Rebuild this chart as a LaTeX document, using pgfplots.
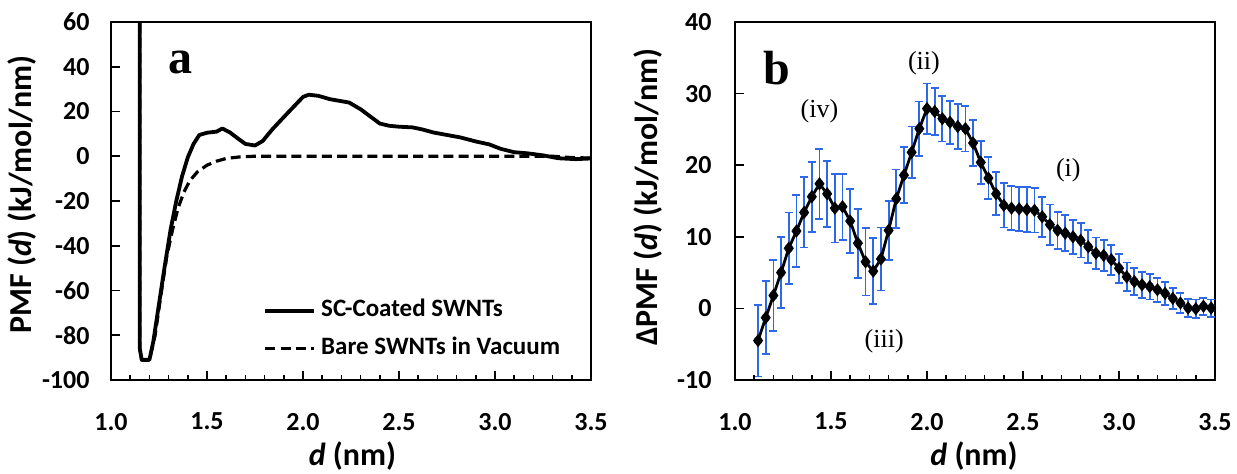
\documentclass[border=0pt]{standalone}
\usepackage{pgfplots}
\usepackage{pgfplotstable}
\pgfplotsset{compat=1.18}
\usepackage{fontspec}
\setmainfont{Carlito}
\newfontfamily\tnr{Liberation Serif}
\definecolor{errblue}{RGB}{45,105,230}
\pgfkeys{/pgf/number format/assume math mode=true}

\pgfplotstableread{
d v
1.150 80
1.150 -86
1.160 -91
1.200 -91
1.220 -83
1.250 -66
1.280 -49
1.310 -33
1.340 -20
1.370 -9
1.400 -0.5
1.430 5.5
1.460 9.5
1.500 10.5
1.550 11
1.580 12.4
1.620 10.6
1.660 8
1.700 5.5
1.750 4.8
1.790 6.8
1.840 12
1.900 17.5
1.950 22
2.000 26.5
2.030 27.5
2.080 27
2.140 25.5
2.200 24.6
2.240 24
2.300 21
2.350 17.8
2.400 14.6
2.450 13.6
2.500 13.2
2.570 12.9
2.620 12
2.680 10.6
2.750 9.5
2.820 8.4
2.900 6.6
2.970 5.3
3.030 3.3
3.100 1.8
3.170 1.3
3.250 0.4
3.330 -0.9
3.420 -1.3
3.500 -1.0
}\solida

\pgfplotstableread{
d v
1.150 80
1.150 -86
1.160 -91
1.200 -91
1.230 -80
1.260 -62
1.290 -45
1.320 -33
1.350 -23
1.380 -16
1.410 -11
1.450 -7
1.500 -4
1.550 -2.2
1.600 -1.0
1.670 -0.3
1.750 0
3.300 0
3.400 -0.6
3.500 -0.8
}\dasheda

\pgfplotstableread{
d v e
1.12 -4.5 5.0
1.16 -1.3 5.1
1.20 1.8 5.0
1.24 5.0 5.0
1.28 8.4 5.0
1.32 10.8 5.0
1.36 13.4 4.9
1.40 15.6 4.9
1.44 17.4 4.9
1.48 16.0 4.6
1.52 14.0 4.8
1.56 14.2 4.6
1.60 12.2 4.5
1.64 9.1 4.8
1.68 6.5 4.7
1.72 5.2 4.6
1.76 6.9 4.4
1.80 10.9 4.1
1.84 15.3 4.1
1.88 18.6 3.9
1.92 21.8 3.6
1.96 25.1 3.8
2.00 27.9 3.5
2.04 27.5 3.3
2.08 26.5 3.2
2.12 26.0 3.0
2.16 25.4 3.1
2.20 25.1 3.2
2.24 23.1 3.2
2.28 20.4 3.0
2.32 18.2 2.9
2.36 16.0 3.0
2.40 14.4 3.1
2.44 14.0 3.1
2.48 13.9 3.1
2.52 13.8 3.1
2.56 13.7 3.1
2.60 12.8 2.8
2.64 11.7 2.8
2.68 10.9 2.6
2.72 10.5 2.5
2.76 10.0 2.4
2.80 9.5 2.4
2.84 8.6 2.3
2.88 7.7 2.2
2.92 7.4 2.2
2.96 6.8 2.1
3.00 5.6 2.0
3.04 4.4 2.0
3.08 3.75 1.9
3.12 3.3 1.8
3.16 3.05 1.8
3.20 2.6 1.7
3.24 2.1 1.6
3.28 1.4 1.5
3.32 0.75 1.4
3.36 0.05 1.3
3.40 -0.05 1.3
3.44 0.3 1.2
3.48 0.05 1.2
}\datab

\pgfplotsset{
  base/.style={scale only axis, width=240pt, height=179pt,
    xmin=1, xmax=3.5, xtick={1,1.5,2,2.5,3,3.5}, minor x tick num=4,
    tick align=inside, tick pos=left,
    major tick length=4.5pt, minor tick length=2.6pt,
    tick style={black, line width=0.8pt}},
  fonts/.style={
    tick label style={font=\fontsize{13}{15}\selectfont\bfseries},
    x tick label style={yshift=-13pt},
    xticklabel={\pgfmathprintnumber[fixed,fixed zerofill,precision=1]{\tick}},
  },
  tkxmajor/.style={forget plot, only marks, mark=|, mark size=2.25pt,
    mark options={solid, black, line width=0.8pt, yshift=2.25pt}},
  tkxminor/.style={forget plot, only marks, mark=|, mark size=1.3pt,
    mark options={solid, black, line width=0.8pt, yshift=1.3pt}},
  tkymajor/.style={forget plot, only marks, mark=-, mark size=2.25pt,
    mark options={solid, black, line width=0.8pt, xshift=2.25pt}},
}

\begin{document}
\begin{tikzpicture}
\useasboundingbox (0pt,0pt) rectangle (618.5pt,237pt);
\begin{axis}[base, fonts, axis line style={line width=0.9pt, black},
  at={(55.5pt,47pt)}, anchor=south west,
  ymin=-100, ymax=60, ytick={-100,-80,-60,-40,-20,0,20,40,60},
  y tick label style={xshift=-7.2pt},
  legend style={draw=none, fill=none, at={(axis description cs:0.3167,0.053)}, anchor=south west,
    row sep=7pt, column sep=2.5pt, inner sep=0pt,
    font=\fontsize{12.5}{14}\selectfont\bfseries,
    nodes={inner sep=0pt, text height=9pt, text depth=3pt}},
  legend cell align=left,
  legend image code/.code={\draw[#1] (0pt,0pt) -- (24.5pt,0pt);},
]
\addplot[tkxmajor] coordinates {(1.5,-100) (2,-100) (2.5,-100) (3,-100)};
\addplot[tkxminor] coordinates {(1.1,-100) (1.2,-100) (1.3,-100) (1.4,-100) (1.6,-100) (1.7,-100) (1.8,-100) (1.9,-100) (2.1,-100) (2.2,-100) (2.3,-100) (2.4,-100) (2.6,-100) (2.7,-100) (2.8,-100) (2.9,-100) (3.1,-100) (3.2,-100) (3.3,-100) (3.4,-100)};
\addplot[tkymajor] coordinates {(1,-80) (1,-60) (1,-40) (1,-20) (1,0) (1,20) (1,40)};
\addplot[black, line width=1.9pt, line join=round] table[x=d,y=v] {\solida};
\addlegendentry{SC-Coated SWNTs}
\addplot[black, line width=1.6pt, dash pattern=on 5pt off 2.6pt] table[x=d,y=v] {\dasheda};
\addlegendentry{Bare SWNTs in Vacuum}
\node[font=\tnr\bfseries\fontsize{24}{26}\selectfont] at (axis cs:1.36,41.7) {a};
\end{axis}

\begin{axis}[base, fonts, axis line style={line width=0.9pt, black},
  at={(367.5pt,47pt)}, anchor=south west,
  ymin=-10, ymax=40, ytick={-10,0,10,20,30,40},
  y tick label style={xshift=-8.2pt},
]
\addplot[tkxmajor] coordinates {(1.5,-10) (2,-10) (2.5,-10) (3,-10)};
\addplot[tkxminor] coordinates {(1.1,-10) (1.2,-10) (1.3,-10) (1.4,-10) (1.6,-10) (1.7,-10) (1.8,-10) (1.9,-10) (2.1,-10) (2.2,-10) (2.3,-10) (2.4,-10) (2.6,-10) (2.7,-10) (2.8,-10) (2.9,-10) (3.1,-10) (3.2,-10) (3.3,-10) (3.4,-10)};
\addplot[tkymajor] coordinates {(1,0) (1,10) (1,20) (1,30)};
\addplot[errblue, only marks, mark=none, forget plot,
  error bars/.cd, y dir=both, y explicit,
  error bar style={errblue, line width=0.9pt},
  error mark options={errblue, rotate=90, mark size=2pt, line width=0.9pt}]
  table[x=d, y=v, y error=e] {\datab};
\addplot[black, line width=1.4pt, mark=diamond*, mark size=2.2pt, mark options={solid, fill=black}] table[x=d,y=v] {\datab};
\node[font=\tnr\bfseries\fontsize{24}{26}\selectfont] at (axis cs:1.218,33.6) {b};
\node[font=\tnr\fontsize{13}{15}\selectfont] at (axis cs:1.44,27.6) {(iv)};
\node[font=\tnr\fontsize{13}{15}\selectfont] at (axis cs:1.984,34.3) {(ii)};
\node[font=\tnr\fontsize{13}{15}\selectfont] at (axis cs:1.777,-4.6) {(iii)};
\node[font=\tnr\fontsize{13}{15}\selectfont] at (axis cs:2.736,19.3) {(i)};
\end{axis}

\node[rotate=90, anchor=base, font=\fontsize{16}{18}\selectfont\bfseries] at (15.85pt,139.75pt) {PMF (\textit{d}) (kJ/mol/nm)};
\node[rotate=90, anchor=base, font=\fontsize{16}{18}\selectfont\bfseries] at (328.5pt,138.5pt) {ΔPMF (\textit{d}) (kJ/mol/nm)};
\node[anchor=base, font=\fontsize{16}{18}\selectfont\bfseries] at (176.25pt,4pt) {\textit{d} (nm)};
\node[anchor=base, font=\fontsize{16}{18}\selectfont\bfseries] at (487pt,4pt) {\textit{d} (nm)};
\end{tikzpicture}
\end{document}
